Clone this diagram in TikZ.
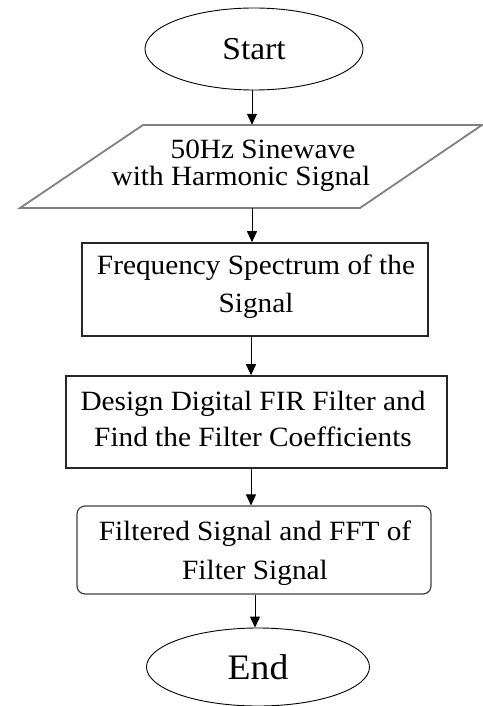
\documentclass[tikz,border=0pt]{standalone}
\usepackage{fontspec}
\setmainfont[FakeStretch=1.05]{Liberation Serif}
\usetikzlibrary{shapes.geometric,arrows.meta}
\tikzset{
  txt/.style={font=\fontsize{28}{38}\selectfont, align=center, inner sep=0pt},
  term/.style={ellipse, draw=black, line width=0.9bp, inner sep=0pt},
  procbox/.style={rectangle, draw=black!85, line width=1.6bp, inner sep=0pt},
  roundbox/.style={rectangle, rounded corners=8bp, draw=black!75, line width=1.2bp, inner sep=0pt},
  iobox/.style={draw=black!50, line width=1.8bp, line join=miter},
  arr/.style={line width=1bp, -{Triangle[width=10bp,length=11bp]}}
}
\begin{document}
\begin{tikzpicture}[x=1bp, y=-1bp]
\useasboundingbox (0,0) rectangle (483,706);

% terminal: start
\node[term, minimum width=218bp, minimum height=82bp,
      font=\fontsize{32}{36}\selectfont] (start) at (254,49) {Start};

% input / output parallelogram
\coordinate (pTL) at (143,125);
\coordinate (pTR) at (482,125);
\coordinate (pBR) at (360,208);
\coordinate (pBL) at (20,208);
\draw[iobox] (pTL) -- (pTR) -- (pBR) -- (pBL) -- cycle;
\node[minimum width=200bp, minimum height=83bp, inner sep=0pt] (input) at (252,166.5) {};
\node[txt, font=\fontsize{28}{27}\selectfont] (inputtxt) at (241,166)
  {\hspace*{44bp}50Hz Sinewave\\with Harmonic Signal};

% process boxes
\node[procbox, minimum width=346bp, minimum height=93bp] (spec) at (255,289.5) {};
\node[txt] (spectxt) at (256,287) {Frequency Spectrum of the\\Signal};

\node[procbox, minimum width=381bp, minimum height=92bp] (fir) at (256.5,422) {};
\node[txt, font=\fontsize{28}{37}\selectfont] (firtxt) at (253,419)
  {Design Digital FIR Filter and\\Find the Filter Coefficients};

\node[roundbox, minimum width=354bp, minimum height=88bp] (filt) at (254,550) {};
\node[txt, font=\fontsize{28}{39}\selectfont] (filttxt) at (255,553)
  {Filtered Signal and FFT of\\Filter Signal};

% terminal: end
\node[term, minimum width=223bp, minimum height=78bp,
      font=\fontsize{36}{40}\selectfont] (end) at (258,667) {End};

% connectors
\draw[arr] (252,90 |- start.south) -- (252,0 |- input.north);
\draw[arr] (252,0 |- input.south) -- (252,0 |- spec.north);
\draw[arr] (251,0 |- spec.south) -- (251,0 |- fir.north);
\draw[arr] (251,0 |- fir.south) -- (251,0 |- filt.north);
\draw[arr] (255,0 |- filt.south) -- (255,0 |- end.north);
\end{tikzpicture}
\end{document}
